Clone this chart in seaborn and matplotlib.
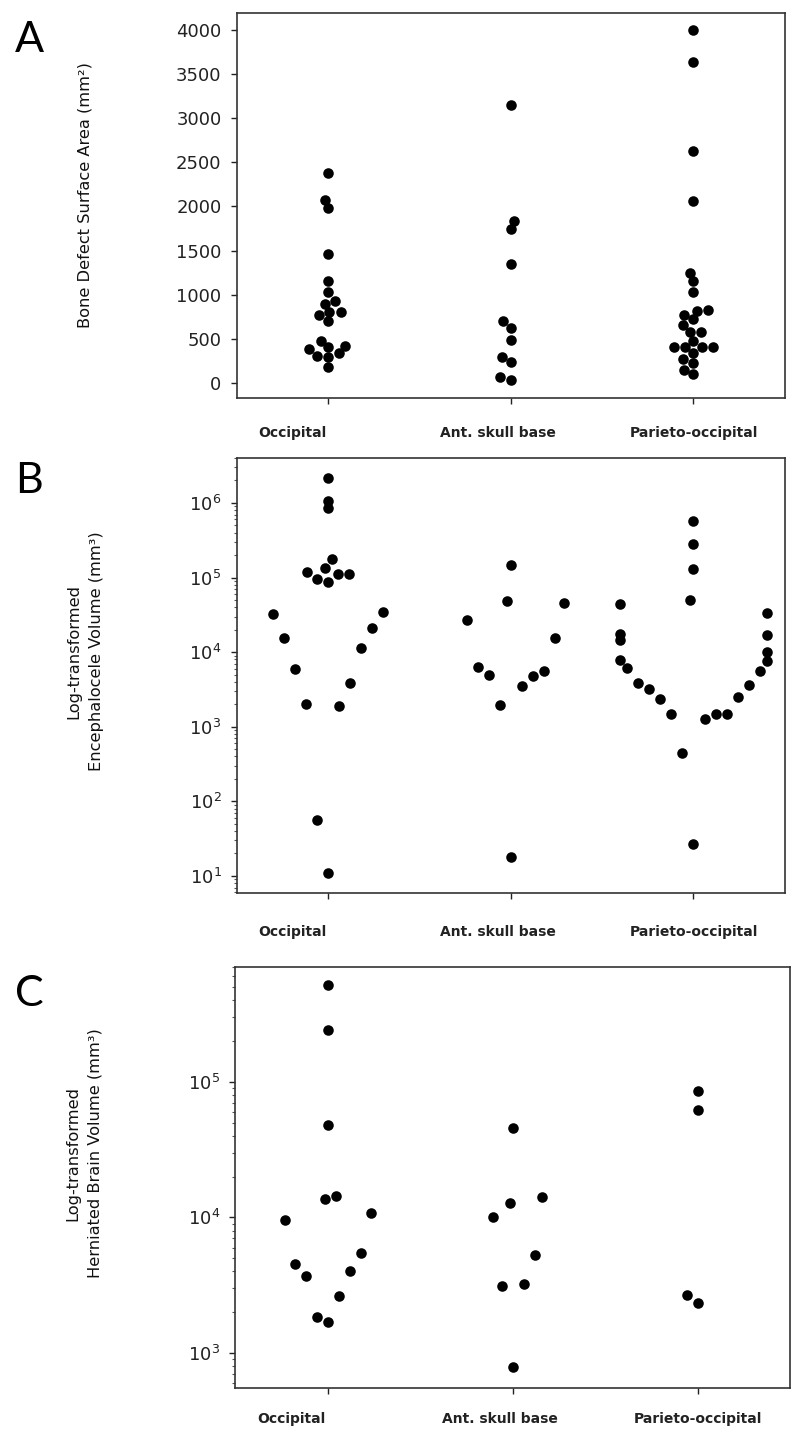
import matplotlib
matplotlib.use("Agg")
import matplotlib.pyplot as plt
import matplotlib.ticker as mticker
from matplotlib.transforms import ScaledTranslation
import pandas as pd
import seaborn as sns

sites = ['Occipital', 'Ant. skull base', 'Parieto-occipital']

# A - bone defect surface area (mm2)
occ_area = [2380, 2075, 1980, 1460, 1150, 1030, 930, 895, 810, 805, 765, 705,
            480, 415, 405, 380, 335, 310, 300, 185]
ant_area = [3150, 1840, 1745, 1345, 700, 625, 485, 295, 240, 65, 30]
par_area = [4000, 3640, 2630, 2060, 1250, 1155, 1035, 825, 820, 770, 725, 655,
            575, 575, 480, 412, 412, 412, 412, 345, 270, 230, 147, 98]

# B - encephalocele volume (mm3)
occ_vol = [2.14e6, 1.07e6, 8.5e5, 1.77e5, 1.36e5, 1.18e5, 1.12e5, 1.11e5, 9.6e4,
           8.6e4, 3.4e4, 3.2e4, 2.1e4, 1.53e4, 1.15e4, 5.96e3, 3.83e3, 2.0e3,
           1.9e3, 56, 11]
ant_vol = [1.49e5, 4.9e4, 4.55e4, 2.72e4, 1.55e4, 6.4e3, 5.62e3, 4.88e3, 4.82e3,
           3.54e3, 1.97e3, 18]
par_vol = [5.74e5, 2.79e5, 1.29e5, 5.0e4, 4.39e4, 3.32e4, 1.74e4, 1.70e4, 1.46e4,
           9.97e3, 7.85e3, 7.7e3, 6.1e3, 5.6e3, 3.83e3, 3.63e3, 3.21e3, 2.54e3,
           2.36e3, 1.47e3, 1.47e3, 1.47e3, 1.27e3, 442, 27]

# C - herniated brain volume (mm3)
occ_brain = [5.13e5, 2.39e5, 4.77e4, 1.45e4, 1.36e4, 1.08e4, 9.55e3, 5.5e3, 4.5e3,
             4.06e3, 3.7e3, 2.63e3, 1.84e3, 1.70e3]
ant_brain = [4.53e4, 1.42e4, 1.28e4, 1.0e4, 5.25e3, 3.24e3, 3.12e3, 789]
par_brain = [8.53e4, 6.18e4, 2.68e3, 2.35e3]


def make_frame(occ, ant, par):
    """ Long table: one row per patient """
    groups = [occ, ant, par]
    site_col = []
    for name, vals in zip(sites, groups):
        site_col += [name] * len(vals)
    return pd.DataFrame({'site': site_col, 'value': occ + ant + par})


sns.set_theme(style='ticks')
plt.rcParams['font.family'] = ['DejaVu Sans']
plt.rcParams['axes.edgecolor'] = '#333333'
plt.rcParams['axes.linewidth'] = 1.2

fig = plt.figure(figsize=(8, 14.39), dpi=100)
ax_a = fig.add_axes([0.296, 0.7234, 0.685, 0.2675])
ax_b = fig.add_axes([0.296, 0.3794, 0.685, 0.3023])
ax_c = fig.add_axes([0.294, 0.0354, 0.694, 0.2926])
axes = [ax_a, ax_b, ax_c]

frames = [
    make_frame(occ_area, ant_area, par_area),
    make_frame(occ_vol, ant_vol, par_vol),
    make_frame(occ_brain, ant_brain, par_brain),
]
# the original swarms were laid out on linear axes a bit taller than the final ones
layout_stretch = [1.2, 1.075, 1.15]
for ax, df, stretch in zip(axes, frames, layout_stretch):
    sns.swarmplot(data=df, x='site', y='value', order=sites, color='black',
                  size=7.6, linewidth=0, warn_thresh=1, ax=ax)
    lo, hi = ax.get_ylim()
    ax.set_ylim(lo, lo + (hi - lo) / stretch)

# lay the swarms out once, freeze them, then set the final scales
fig.canvas.draw()
for ax in axes:
    for coll in ax.collections:
        if 'draw' in coll.__dict__:
            del coll.draw

for ax in (ax_b, ax_c):
    ax.set_yscale('log')
    ax.yaxis.set_minor_formatter(mticker.NullFormatter())

ax_a.set_ylim(-170, 4190)
ax_a.yaxis.set_major_locator(mticker.MultipleLocator(500))
ax_b.set_ylim(5.9, 4.0e6)
ax_c.set_ylim(553, 7.0e5)

ylabels = [
    (ax_a, 'Bone Defect Surface Area (mm²)', -0.263, 0.526),
    (ax_b, 'Log-transformed\nEncephalocele Volume (mm³)', -0.243, 0.555),
    (ax_c, 'Log-transformed\nHerniated Brain Volume (mm³)', -0.239, 0.558),
]
for ax, text, lx, ly in ylabels:
    ax.set_ylabel(text, fontsize=11.7, linespacing=1.6, color='#111111')
    ax.yaxis.set_label_coords(lx, ly)
    ax.set_xlabel('')

x_pads = {ax_a: 16, ax_b: 19, ax_c: 13}
label_shift = [-0.36, -0.13, 0.0]  # labels sit a bit left of their ticks
for ax in axes:
    for side in ['top', 'right', 'left', 'bottom']:
        ax.spines[side].set_visible(True)
    ax.tick_params(axis='y', which='major', labelsize=13, length=4, width=1,
                   pad=7, colors='#222222')
    ax.tick_params(axis='y', which='minor', length=2, width=0.8, color='#555555')
    ax.tick_params(axis='x', labelsize=10, length=4, width=1, pad=x_pads[ax],
                   colors='#222222')
    for lab, dx in zip(ax.get_xticklabels(), label_shift):
        lab.set_fontweight('bold')
        lab.set_transform(lab.get_transform() + ScaledTranslation(dx, 0, fig.dpi_scale_trans))

for letter, base in [('A', 52), ('B', 493), ('C', 1006)]:
    fig.text(15 / 800, 1 - base / 1439, letter, fontsize=31, family='Lato',
             va='baseline', ha='left', color='black')

fig.savefig('out.png', dpi=100)
